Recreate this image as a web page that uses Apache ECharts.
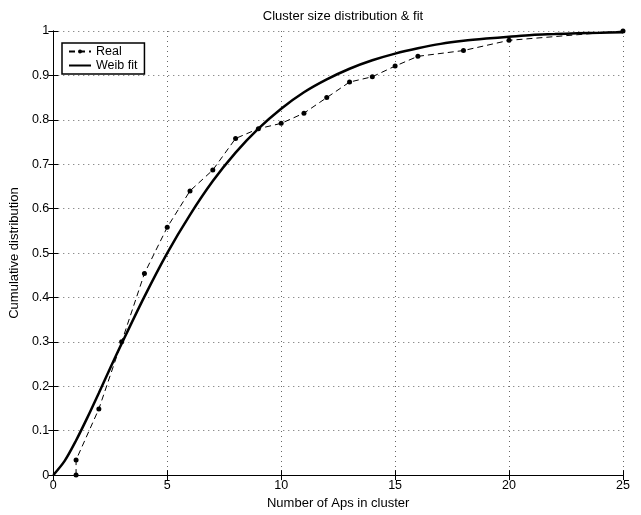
<!DOCTYPE html>
<html>
<head>
<meta charset="utf-8">
<script src="https://cdn.jsdelivr.net/npm/echarts@6/dist/echarts.min.js"></script>
<style>html,body{margin:0;padding:0;background:#fff}#c{width:641px;height:515px}</style>
</head>
<body>
<div id="c"></div>
<script>
// Empirical data ("Real")
const realX = [1, 1, 2, 3, 4, 5, 6, 7, 8, 9, 10, 11, 12, 13, 14, 15, 16, 18, 20, 25];
const realY = [0, 0.034, 0.149, 0.300, 0.454, 0.558, 0.640, 0.687, 0.758, 0.780, 0.792, 0.815, 0.850, 0.885, 0.897, 0.921, 0.943, 0.956, 0.979, 1.0];
// Fitted curve ("Weib fit")
const fitX = [0, 0.5, 1, 1.5, 2, 2.5, 3, 4, 5, 6, 7, 8, 9, 10, 11, 12, 13, 14, 15, 16, 17, 18, 19, 20, 21, 22, 23, 24, 25];
const fitY = [0, 0.032, 0.078, 0.130, 0.185, 0.241, 0.296, 0.402, 0.500, 0.586, 0.662, 0.726, 0.780, 0.825, 0.862, 0.891, 0.915, 0.934, 0.949, 0.961, 0.971, 0.978, 0.983, 0.987, 0.991, 0.993, 0.995, 0.996, 0.997];
const xTicks = [0, 5, 10, 15, 20, 25];
const yTicks = [0, 0.1, 0.2, 0.3, 0.4, 0.5, 0.6, 0.7, 0.8, 0.9, 1];

const FONT = 'Liberation Sans';
const chart = echarts.init(document.getElementById('c'), null, {renderer: 'canvas'});
const gridStyle = {show: true, lineStyle: {color: '#666', type: [1, 4], width: 1}};
const tick = {show: true, inside: true, length: 5, lineStyle: {color: '#000'}};
chart.setOption({
  backgroundColor: '#fff',
  animation: false,
  title: {
    text: 'Cluster size distribution & fit',
    left: 338, textAlign: 'center', top: 5,
    textStyle: {fontFamily: FONT, fontSize: 13, fontWeight: 'normal', color: '#000'}
  },
  legend: {
    left: 62, top: 43, orient: 'vertical',
    backgroundColor: '#fff', borderColor: '#000', borderWidth: 1.5,
    padding: [1.5, 7, 1.5, 6], itemGap: 0, itemWidth: 22, itemHeight: 5,
    textStyle: {fontFamily: FONT, fontSize: 12.5, color: '#000', lineHeight: 14},
    data: [
      {name: 'Real'},
      {name: 'Weib fit', itemStyle: {color: 'transparent', borderWidth: 0}}
    ]
  },
  grid: {left: 53, right: 18, top: 31, bottom: 33, show: false},
  xAxis: [{
    type: 'value', min: 0, max: 25, interval: 5,
    axisLine: {show: true, onZero: false, lineStyle: {color: '#000', width: 1}},
    axisTick: tick,
    axisLabel: {fontFamily: FONT, fontSize: 12.5, color: '#000', margin: 4},
    splitLine: gridStyle,
    name: 'Number of Aps in cluster', nameLocation: 'middle', nameGap: 21,
    nameTextStyle: {fontFamily: FONT, fontSize: 13, color: '#000'}
  }, {
    type: 'value', position: 'top', min: 0, max: 25, interval: 5,
    axisLine: {show: true, lineStyle: {color: '#000', width: 1}},
    axisTick: tick, axisLabel: {show: false}, splitLine: {show: false}
  }],
  yAxis: [{
    type: 'value', min: 0, max: 1, interval: 0.1,
    axisLine: {show: true, onZero: false, lineStyle: {color: '#000', width: 1}},
    axisTick: tick,
    axisLabel: {fontFamily: FONT, fontSize: 12.5, color: '#000', margin: 4},
    splitLine: gridStyle,
    name: 'Cumulative distribution', nameLocation: 'middle', nameGap: 26,
    nameTextStyle: {fontFamily: FONT, fontSize: 13, color: '#000'}
  }, {
    type: 'value', position: 'right', min: 0, max: 1, interval: 0.1,
    axisLine: {show: true, lineStyle: {color: '#000', width: 1}},
    axisTick: tick, axisLabel: {show: false}, splitLine: {show: false}
  }],
  series: [{
    name: 'Real', type: 'line',
    data: realX.map((x, i) => [x, realY[i]]),
    symbol: 'circle', symbolSize: 5, showSymbol: true,
    itemStyle: {color: '#000'},
    lineStyle: {color: '#000', width: 1, type: [6, 4]},
    clip: false, z: 3
  }, {
    name: 'Weib fit', type: 'line',
    data: fitX.map((x, i) => [x, fitY[i]]),
    smooth: 0.3, symbol: 'none',
    itemStyle: {color: '#000'},
    lineStyle: {color: '#000', width: 2.5},
    clip: false, z: 2
  }]
});
</script>
</body>
</html>
